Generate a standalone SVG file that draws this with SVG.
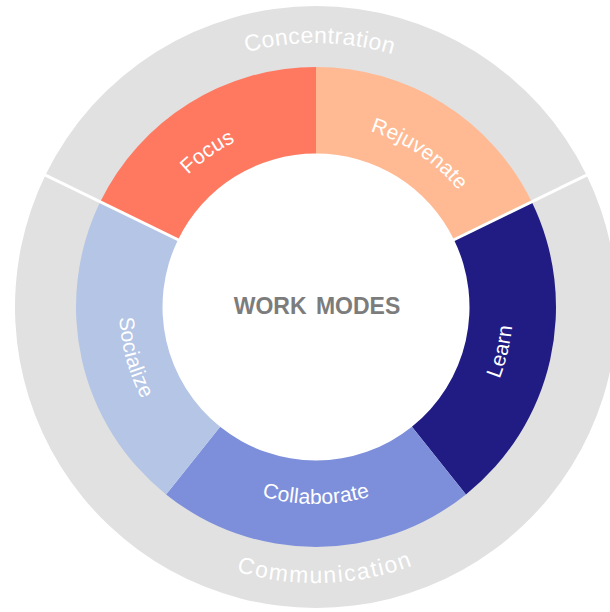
<svg xmlns="http://www.w3.org/2000/svg" width="610" height="612" viewBox="0 0 610 612">
  <style>
    .group { fill: #e1e1e1; }
    .sep { stroke: #ffffff; stroke-width: 3; fill: none; }
    .group-label { font-family: "Liberation Sans", Arial, sans-serif; font-size: 23px; fill: #ffffff; }
    .mode-label { font-family: "Liberation Sans", Arial, sans-serif; font-size: 21px; fill: #ffffff; letter-spacing: 0.2px; }
    .title { font-family: "Liberation Sans", Arial, sans-serif; font-size: 23px; font-weight: bold; fill: #7c7c7c; word-spacing: 3px; }
  </style>
  <defs>
    <!-- baseline arcs for the curved labels, centre (316,307) -->
    <path id="arc-concentration" d="M116.15,134.50 A264,264 0 0 1 520.58,140.14"/>
    <path id="arc-communication" d="M110.89,491.68 A276,276 0 0 0 533.49,476.92"/>
    <path id="arc-focus" d="M132.70,323.04 A184,184 0 0 1 393.76,140.24"/>
    <path id="arc-rejuvenate" d="M235.34,141.62 A184,184 0 0 1 499.55,319.84"/>
    <path id="arc-learn" d="M371.95,495.89 A197,197 0 0 0 451.60,164.10"/>
    <path id="arc-collaborate" d="M145.39,405.5 A197,197 0 0 0 486.61,405.5"/>
    <path id="arc-socialize" d="M175.49,168.92 A197,197 0 0 0 266.68,497.73"/>
  </defs>

  <!-- outer ring: the two groups -->
  <g id="concentration">
    <path class="group" d="M45.46,175.05 A301,301 0 0 1 586.54,175.05 L528.11,203.54 A236,236 0 0 0 103.89,203.54 Z"/>
    <text class="group-label" letter-spacing="0.4"><textPath href="#arc-concentration" startOffset="50%" text-anchor="middle">Concentration</textPath></text>
  </g>
  <g id="communication">
    <path class="group" d="M586.54,175.05 A301,301 0 1 1 45.46,175.05 L103.89,203.54 A236,236 0 1 0 528.11,203.54 Z"/>
    <text class="group-label" letter-spacing="1.6"><textPath href="#arc-communication" startOffset="50%" text-anchor="middle">Communication</textPath></text>
  </g>

  <!-- inner ring: the work modes -->
  <g id="focus">
    <path fill="#ff7961" d="M100.29,201.79 A240,240 0 0 1 316,67 L316,153.5 A153.5,153.5 0 0 0 178.04,239.71 Z"/>
    <text class="mode-label"><textPath href="#arc-focus" startOffset="50%" text-anchor="middle">Focus</textPath></text>
  </g>
  <g id="rejuvenate">
    <path fill="#ffba93" d="M316,67 A240,240 0 0 1 531.71,201.79 L453.96,239.71 A153.5,153.5 0 0 0 316,153.5 Z"/>
    <text class="mode-label"><textPath href="#arc-rejuvenate" startOffset="50%" text-anchor="middle">Rejuvenate</textPath></text>
  </g>
  <g id="learn">
    <path fill="#211c84" d="M531.71,201.79 A240,240 0 0 1 465.95,494.39 L411.91,426.85 A153.5,153.5 0 0 0 453.96,239.71 Z"/>
    <text class="mode-label"><textPath href="#arc-learn" startOffset="50%" text-anchor="middle">Learn</textPath></text>
  </g>
  <g id="collaborate">
    <path fill="#7d8fdb" d="M465.95,494.39 A240,240 0 0 1 166.05,494.39 L220.09,426.85 A153.5,153.5 0 0 0 411.91,426.85 Z"/>
    <text class="mode-label"><textPath href="#arc-collaborate" startOffset="50%" text-anchor="middle">Collaborate</textPath></text>
  </g>
  <g id="socialize">
    <path fill="#b4c5e6" d="M166.05,494.39 A240,240 0 0 1 100.29,201.79 L178.04,239.71 A153.5,153.5 0 0 0 220.09,426.85 Z"/>
    <text class="mode-label"><textPath href="#arc-socialize" startOffset="50%" text-anchor="middle">Socialize</textPath></text>
  </g>

  <!-- group dividers -->
  <g id="connectors">
    <line class="sep" x1="450.82" y1="241.24" x2="590.13" y2="173.30"/>
    <line class="sep" x1="181.18" y1="241.24" x2="41.87" y2="173.30"/>
  </g>

  <g id="center">
    <text class="title" x="317" y="313.5" text-anchor="middle">WORK MODES</text>
  </g>
</svg>
